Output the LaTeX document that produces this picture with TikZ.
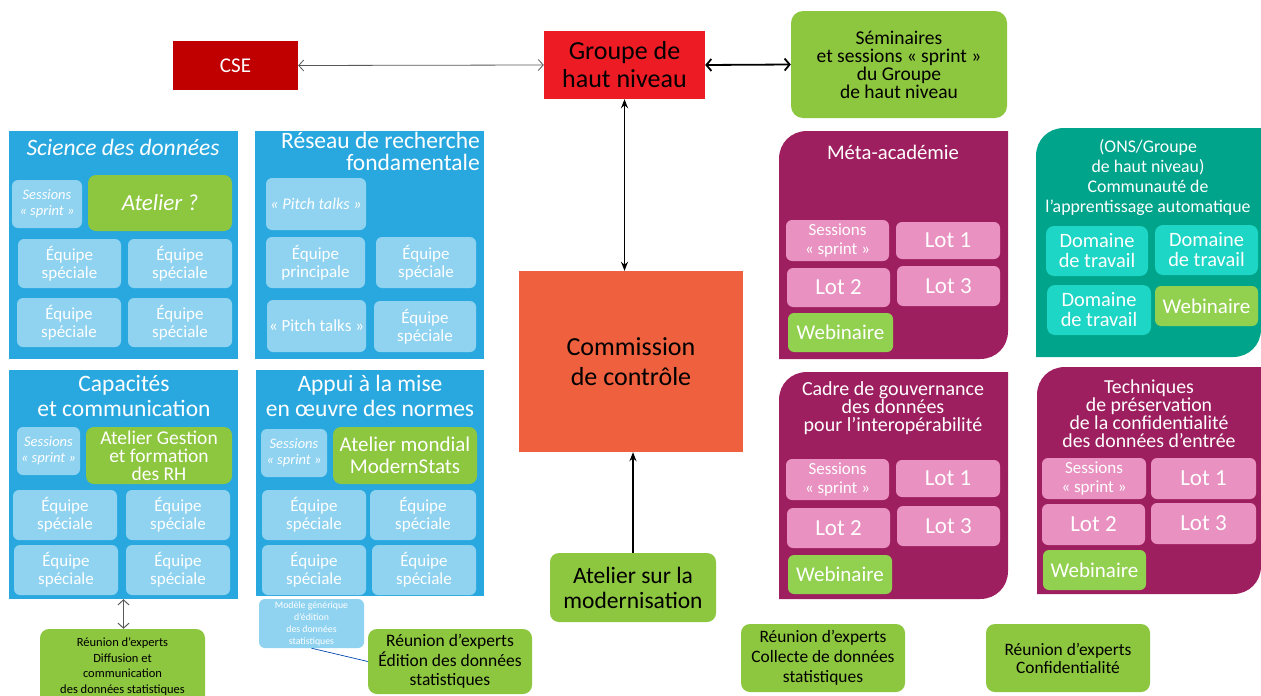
\documentclass[tikz,border=0pt]{standalone}
\usepackage{fontspec}
\setmainfont{Carlito}
\usetikzlibrary{arrows.meta}
\definecolor{bluepanel}{HTML}{29A8E0}
\definecolor{lightblue}{HTML}{8FD3F1}
\definecolor{grn}{HTML}{8DC63F}
\definecolor{grnb}{HTML}{92D050}
\definecolor{purp}{HTML}{9E1F5F}
\definecolor{pinkb}{HTML}{E991C0}
\definecolor{tealp}{HTML}{00A48B}
\definecolor{turq}{HTML}{1DD6C6}
\definecolor{orng}{HTML}{EF613E}
\definecolor{redb}{HTML}{ED1C24}
\definecolor{darkred}{HTML}{C00000}
\newcommand{\setfs}[2]{\fontsize{#1}{#2}\selectfont}
\newcommand{\bx}[7]{\node[#2, minimum width={#5-#3}, minimum height={#6-#4}] (#1) at ({(#3+#5)/2},{(#4+#6)/2}) {#7};}
\newcommand{\panelshape}[5]{\fill[#1] (#2,#5) -- (#2,{#3+28}) .. controls (#2,{#3+12}) and ({#2+12},#3) .. ({#2+28},#3) -- (#4,#3) -- (#4,{#5-28}) .. controls (#4,{#5-12}) and ({#4-12},#5) .. ({#4-28},#5) -- cycle;}
\tikzset{
  base/.style={inner sep=0pt, align=center, text=white},
  bp/.style={base, fill=bluepanel},
  ttl/.style={base, font=\setfs{23.5}{22}},
  lb/.style={base, fill=lightblue, rounded corners=6pt, font=\setfs{17}{18}},
  lbs/.style={lb, font=\itshape\setfs{14.5}{16}},
  gr/.style={base, fill=grn, rounded corners=8pt},
  grb/.style={base, fill=grnb, rounded corners=6pt, font=\setfs{21}{20}},
  blk/.style={base, fill=grn, rounded corners=9pt, text=black},
  pk/.style={base, fill=pinkb, rounded corners=6pt, font=\setfs{23}{20}},
  pks/.style={pk, font=\setfs{17}{19}},
  tq/.style={base, fill=turq, rounded corners=8pt, font=\setfs{20.4}{20}},
  thinarr/.style={draw=black!65, line width=0.8pt, {Straight Barb[length=5pt,width=11pt]}-{Straight Barb[length=5pt,width=11pt]}},
  thickarr/.style={draw=black, line width=1.8pt, {Straight Barb[length=5pt,width=12pt]}-{Straight Barb[length=5pt,width=12pt]}},
  vertarr/.style={draw=black, line width=1.5pt, {Stealth[length=9pt,width=7pt]}-{Stealth[length=9pt,width=7pt]}},
  uparr/.style={draw=black, line width=1.5pt, -{Stealth[length=9pt,width=7pt]}},
}
\begin{document}
\begin{tikzpicture}[x=1pt,y=-1pt]
\fill[white] (0,0) rectangle (1261,696);
\useasboundingbox (0,0) rectangle (1261,696);

% top row
\bx{cse}{base, fill=darkred, font=\setfs{21}{20}}{173}{41}{298}{90}{CSE}
\bx{ghn}{base, fill=redb, text=black, font=\setfs{26}{28}}{544}{31}{705}{99}{Groupe de\\haut niveau}
\bx{sem}{blk, rounded corners=12pt, font=\setfs{19.5}{18}}{791}{11}{1007}{118}{Séminaires\\et sessions «~sprint~»\\du Groupe\\de haut niveau}
\draw[thinarr] (cse.east) -- (ghn.west);
\draw[thickarr] (ghn.east) -- (sem.west);

% centre
\bx{comm}{base, fill=orng, text=black, font=\setfs{26}{30}}{519}{271}{743}{452}{Commission\\de contrôle}
\bx{atm}{blk, font=\setfs{23.5}{25}}{550}{553}{716}{622}{Atelier sur la\\modernisation}
\draw[vertarr] (ghn.south) -- (ghn.south |- comm.north);
\draw[uparr] (atm.north) -- (atm.north |- comm.south);

% Panel 1
\bx{p1}{bp}{9}{131}{238}{359}{}
\node[ttl, font=\itshape\setfs{23.5}{22}] (p1t) at (123,147) {Science des données};
\bx{p1s}{lbs}{12}{180}{82}{228}{Sessions\\«~sprint~»}
\bx{p1a}{gr, font=\itshape\setfs{23}{22}}{88}{175}{232}{231}{Atelier ?}
\bx{p1e1}{lb}{18}{239}{121}{288}{Équipe\\spéciale}
\bx{p1e2}{lb}{128}{239}{232}{288}{Équipe\\spéciale}
\bx{p1e3}{lb}{17}{298}{121}{347}{Équipe\\spéciale}
\bx{p1e4}{lb}{128}{298}{232}{347}{Équipe\\spéciale}

% Panel 2
\bx{p2}{bp}{255}{131}{484}{359}{}
\node[ttl, align=right, anchor=north east] (p2t) at (480,132) {Réseau de recherche\\fondamentale};
\bx{p2p1}{lb, font=\itshape\setfs{16.3}{18}}{266}{178}{366}{230}{«~Pitch talks~»}
\bx{p2e1}{lb}{266}{237}{365}{288}{Équipe\\principale}
\bx{p2e2}{lb}{376}{237}{476}{288}{Équipe\\spéciale}
\bx{p2p2}{lb}{267}{300}{366}{352}{«~Pitch talks~»}
\bx{p2e3}{lb}{374}{301}{476}{352}{Équipe\\spéciale}

% Panel 3
\bx{p3}{bp}{9}{370}{238}{599}{}
\node[ttl, font=\setfs{23.5}{25}] (p3t) at (124,396) {Capacités\\et communication};
\bx{p3s}{lbs}{17}{427}{80}{475}{Sessions\\«~sprint~»}
\bx{p3a}{gr, font=\setfs{19.5}{18}}{86}{427}{232}{484}{Atelier Gestion\\et formation\\des RH}
\bx{p3e1}{lb}{13}{490}{117}{540}{Équipe\\spéciale}
\bx{p3e2}{lb}{126}{490}{230}{540}{Équipe\\spéciale}
\bx{p3e3}{lb}{14}{545}{118}{595}{Équipe\\spéciale}
\bx{p3e4}{lb}{126}{545}{230}{595}{Équipe\\spéciale}

% Panel 4
\bx{p4}{bp}{256}{370}{484}{596}{}
\node[ttl, font=\setfs{23.5}{25}] (p4t) at (370,396) {Appui à la mise\\en œuvre des normes};
\bx{p4s}{lbs}{261}{429}{327}{477}{Sessions\\«~sprint~»}
\bx{p4a}{gr, font=\setfs{21}{22}}{333}{427}{477}{484}{Atelier mondial\\ModernStats}
\bx{p4e1}{lb}{262}{490}{366}{540}{Équipe\\spéciale}
\bx{p4e2}{lb}{370}{490}{476}{540}{Équipe\\spéciale}
\bx{p4e3}{lb}{262}{545}{366}{595}{Équipe\\spéciale}
\bx{p4e4}{lb}{372}{545}{476}{595}{Équipe\\spéciale}

% bottom left
\bx{mg}{lb, font=\setfs{9.8}{12}}{259}{599}{364}{648}{Modèle générique\\d’édition\\des données\\statistiques}
\bx{rd}{blk, font=\setfs{12.5}{15.5}}{40}{629}{205}{704}{Réunion d’experts\\Diffusion et\\communication\\des données statistiques}
\bx{re}{blk, font=\setfs{17.5}{19.5}}{368}{629}{532}{694}{Réunion d’experts\\Édition des données\\statistiques}
\draw[thinarr, line width=1pt] (p3.south) -- (p3.south |- rd.north);
\draw[draw=blue!60!cyan!70!black, line width=0.7pt] (mg.south) -- (re.west);

% bottom right
\bx{rc}{blk, font=\setfs{17.4}{20}}{741}{624}{905}{692}{Réunion d’experts\\Collecte de données\\statistiques}
\bx{rf}{blk, font=\setfs{17.4}{18}}{986}{624}{1150}{692}{Réunion d’experts\\Confidentialité}

% Méta-académie
\panelshape{purp}{779}{131}{1008}{359}
\node[ttl, font=\setfs{20.7}{20}] (mat) at (893,152) {Méta-académie};
\bx{mas}{pks}{786}{220}{889}{261}{Sessions\\«~sprint~»}
\bx{ma1}{pk}{896}{222}{1000}{259}{Lot 1}
\bx{ma2}{pk}{787}{268}{890}{307}{Lot 2}
\bx{ma3}{pk}{897}{266}{1000}{306}{Lot 3}
\bx{maw}{grb}{788}{313}{893}{352}{Webinaire}

% Communauté
\panelshape{tealp}{1036}{128}{1261}{357}
\node[ttl, font=\setfs{17.8}{20}] (cot) at (1148,178) {(ONS/Groupe\\de haut niveau)\\Communauté de\\l’apprentissage automatique};
\bx{cod1}{tq}{1046}{226}{1148}{276}{Domaine\\de travail}
\bx{cod2}{tq}{1155}{225}{1258}{275}{Domaine\\de travail}
\bx{cod3}{tq}{1047}{285}{1151}{335}{Domaine\\de travail}
\bx{cow}{grb}{1155}{286}{1258}{326}{Webinaire}

% Cadre de gouvernance
\panelshape{purp}{779}{372}{1008}{599}
\node[ttl, font=\setfs{20}{18}] (cgt) at (893,408) {Cadre de gouvernance\\des données\\pour l’interopérabilité};
\bx{cgs}{pks}{786}{459}{889}{500}{Sessions\\«~sprint~»}
\bx{cg1}{pk}{896}{460}{1000}{497}{Lot 1}
\bx{cg2}{pk}{787}{508}{890}{548}{Lot 2}
\bx{cg3}{pk}{897}{506}{1000}{546}{Lot 3}
\bx{cgw}{grb}{788}{555}{892}{594}{Webinaire}

% Techniques
\panelshape{purp}{1037}{367}{1261}{594}
\node[ttl, font=\setfs{19.8}{18}] (tpt) at (1149,414) {Techniques\\de préservation\\de la confidentialité\\des données d’entrée};
\bx{tps}{pks}{1042}{458}{1146}{499}{Sessions\\«~sprint~»}
\bx{tp1}{pk}{1151}{458}{1256}{499}{Lot 1}
\bx{tp2}{pk}{1042}{504}{1145}{545}{Lot 2}
\bx{tp3}{pk}{1151}{503}{1256}{544}{Lot 3}
\bx{tpw}{grb}{1043}{550}{1146}{590}{Webinaire}
\end{tikzpicture}
\end{document}
